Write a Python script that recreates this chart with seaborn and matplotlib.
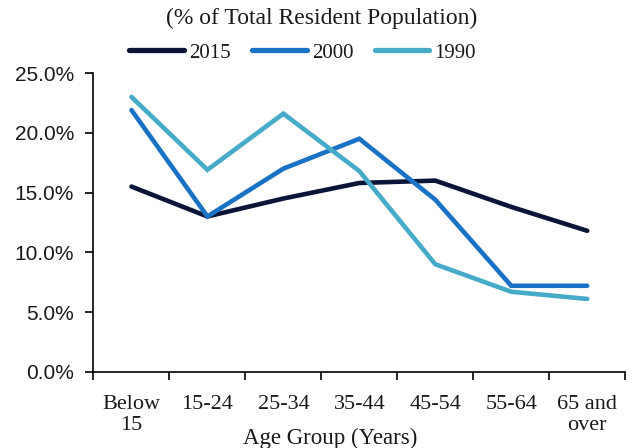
import matplotlib
matplotlib.use("Agg")
import matplotlib.pyplot as plt
import seaborn as sns
import pandas as pd
from matplotlib.ticker import FixedLocator, PercentFormatter
from matplotlib.lines import Line2D

age_groups = ["Below\n15", "15-24", "25-34", "35-44", "45-54", "55-64", "65 and\nover"]
vals_2015 = [15.5, 13.0, 14.5, 15.8, 16.0, 13.8, 11.8]
vals_2000 = [21.9, 13.0, 17.0, 19.5, 14.4, 7.2, 7.2]
vals_1990 = [23.0, 16.9, 21.6, 16.8, 9.0, 6.7, 6.1]
series = ["2015", "2000", "1990"]
colors = ["#0b1538", "#1a72c4", "#45abc9"]

rows = []
for name, vals in zip(series, [vals_2015, vals_2000, vals_1990]):
    for i, (g, v) in enumerate(zip(age_groups, vals)):
        rows.append({"pos": i, "group": g, "value": v, "year": name})
df = pd.DataFrame(rows)

sns.set_theme(style="white")
plt.rcParams["font.family"] = ["Liberation Sans", "DejaVu Sans"]
serif = ["Liberation Serif", "DejaVu Serif"]

fig = plt.figure(figsize=(6.36, 4.48), dpi=100)
ax = fig.add_axes([0.147, 0.170, 0.836, 0.667])

sns.lineplot(data=df, x="pos", y="value", hue="year", hue_order=series,
             palette=colors, linewidth=3.3, sort=False, ax=ax, legend=False)
for line in ax.get_lines():
    line.set_solid_capstyle("round")
    line.set_solid_joinstyle("miter")

ax.set_xlim(-0.5, 6.5)
ax.set_ylim(0, 25)
ax.set_yticks([0, 5, 10, 15, 20, 25])
ax.yaxis.set_major_formatter(PercentFormatter(decimals=1))
ax.set_xticks(range(len(age_groups)))
ax.set_xticklabels(age_groups, family=serif, fontsize=16, linespacing=1.12)
ax.xaxis.set_minor_locator(FixedLocator([i - 0.5 for i in range(len(age_groups) + 1)]))
ax.tick_params(axis="x", which="major", length=0, pad=17)
ax.tick_params(axis="x", which="minor", length=6, width=1.2, direction="out", color="black", bottom=True)
ax.tick_params(axis="y", length=6, width=1.2, direction="out", color="black", left=True,
               labelsize=15, pad=8)
for lab in ax.get_yticklabels() + ax.get_xticklabels():
    lab.set_color("#1a1a1a")

sns.despine(ax=ax)
for s in ["left", "bottom"]:
    ax.spines[s].set_color("black")
    ax.spines[s].set_linewidth(1.2)

ax.set_ylabel("")
ax.set_xlabel("Age Group (Years)", family=serif, fontsize=16.5, color="#1a1a1a")
ax.xaxis.set_label_coords(0.445, -0.187)

fig.text(0.505, 0.96, "(% of Total Resident Population)", ha="center", va="center",
         family=serif, fontsize=17, color="#1a1a1a")

handles = [Line2D([0], [0], color=c, lw=3.8, solid_capstyle="round") for c in colors]
leg = fig.legend(handles, series, loc="center", bbox_to_anchor=(0.476, 0.882), ncol=3,
                 frameon=False, handlelength=2.6, handletextpad=0.25, columnspacing=1.05,
                 prop={"family": serif, "size": 15})
for t in leg.get_texts():
    t.set_color("#1a1a1a")

fig.savefig("out.png", dpi=100, facecolor="white")
